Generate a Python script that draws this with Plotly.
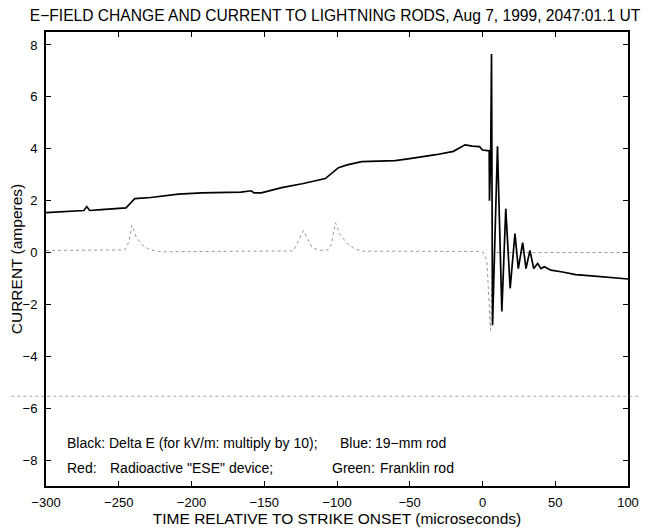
import plotly.graph_objects as go

# Black trace: Delta E field change plus the current ringing at strike onset
t_black = [-300, -289, -280, -274, -272, -270, -262, -255, -248, -245, -242, -239, -228, -209,
           -193, -177, -166, -159, -157, -152, -138, -124, -108, -99, -93, -83, -70, -60, -50,
           -32, -20, -12, -7, -2, 0, 3.4, 4.6, 4.8, 5.6, 6.2, 6.9, 10.3, 13.3, 16, 19, 22.3,
           24.6, 27.6, 29.9, 32.6, 35.2, 37.9, 40.2, 42.5, 47, 55, 64, 75, 85, 96.5, 100]
v_black = [1.54, 1.58, 1.6, 1.62, 1.77, 1.62, 1.65, 1.68, 1.7, 1.72, 1.9, 2.08, 2.12, 2.25,
           2.3, 2.31, 2.33, 2.38, 2.3, 2.3, 2.5, 2.65, 2.85, 3.27, 3.38, 3.5, 3.52, 3.54, 3.62,
           3.77, 3.9, 4.15, 4.1, 4.08, 3.95, 3.92, 3.92, 2.0, 3.6, 7.65, -2.8, 4.1, -2.27, 1.69,
           -1.38, 0.73, -0.62, 0.38, -0.62, 0.08, -0.62, -0.42, -0.62, -0.55, -0.68, -0.75,
           -0.85, -0.9, -0.95, -1.0, -1.02]

# Faint dotted trace: rod currents before the strike
t_dot = [-300, -260, -246, -243, -241, -238, -234, -230, -225, -220, -180, -140, -130, -127,
         -123, -120, -117, -112, -106, -104, -101, -98, -93, -88, -83, -60, -30, -10, 0, 3,
         5.5, 7, 20, 60, 95, 100]
v_dot = [0.08, 0.08, 0.1, 0.4, 1.05, 0.6, 0.3, 0.15, 0.06, 0.03, 0.05, 0.05, 0.06, 0.4,
         0.85, 0.5, 0.19, 0.08, 0.1, 0.3, 1.15, 0.7, 0.35, 0.15, 0.05, 0.05, 0.05, 0.05,
         0.04, -0.3, -3.0, 0.0, 0.0, 0.0, 0.0, 0.0]

x_ticks = [-300, -250, -200, -150, -100, -50, 0, 50, 100]
y_ticks = [-8, -6, -4, -2, 0, 2, 4, 6, 8]

title_text = "E\u2212FIELD CHANGE AND CURRENT TO LIGHTNING RODS, Aug 7, 1999, 2047:01.1 UT"
x_title = "TIME RELATIVE TO STRIKE ONSET (microseconds)"
y_title = "CURRENT (amperes)"

notes = [
    ("Black: Delta E (for kV/m: multiply by 10);", -287, -7.34),
    ("Blue:", -99.5, -7.34),
    ("19\u2212mm rod", -75, -7.34),
    ("Red:", -287, -8.31),
    ("Radioactive \"ESE\" device;", -257.5, -8.31),
    ("Green:", -104.5, -8.31),
    ("Franklin rod", -72, -8.31),
]

FONT = "Liberation Sans, Arial, Helvetica, sans-serif"

fig = go.Figure()
fig.add_trace(go.Scatter(x=t_dot, y=v_dot, mode="lines",
                         line=dict(color="#999999", width=1, dash="dot"),
                         showlegend=False, hoverinfo="skip"))
fig.add_trace(go.Scatter(x=t_black, y=v_black, mode="lines",
                         line=dict(color="black", width=1.7),
                         showlegend=False))

for txt, xx, yy in notes:
    fig.add_annotation(x=xx, y=yy, xref="x", yref="y", text=txt, showarrow=False,
                       xanchor="left", yanchor="middle",
                       font=dict(family=FONT, size=14, color="black"))

# faint scan line across the page
fig.add_shape(type="line", xref="paper", yref="y", x0=-0.07, x1=1.04, y0=-5.54, y1=-5.54,
              line=dict(color="#aaaaaa", width=1, dash="dot"))

fig.update_layout(
    width=641, height=522,
    margin=dict(l=38, r=21, t=24, b=44),
    paper_bgcolor="white", plot_bgcolor="white",
    title=dict(text=title_text, x=0.034, xanchor="left", y=0.986, yanchor="middle",
               font=dict(family=FONT, size=15.6, color="black")),
    font=dict(family=FONT, color="black"),
)
fig.update_xaxes(range=[-300, 100], tickvals=x_ticks, ticks="inside", ticklen=5,
                 tickwidth=1, tickcolor="black", showline=True, linecolor="black",
                 linewidth=2, mirror="ticks", showgrid=False, zeroline=False,
                 ticklabelstandoff=3, automargin=False,
                 tickfont=dict(family=FONT, size=13),
                 title=dict(text=x_title, standoff=0, font=dict(family=FONT, size=15.5)))
fig.update_yaxes(range=[-9, 8.5], tickvals=y_ticks, ticks="inside", ticklen=5,
                 tickwidth=1, tickcolor="black", showline=True, linecolor="black",
                 linewidth=2, mirror="ticks", showgrid=False, zeroline=False,
                 ticklabelstandoff=4, automargin=False,
                 tickfont=dict(family=FONT, size=13),
                 title=dict(text=y_title, standoff=2, font=dict(family=FONT, size=15.5)))

fig.write_html("out.html")
